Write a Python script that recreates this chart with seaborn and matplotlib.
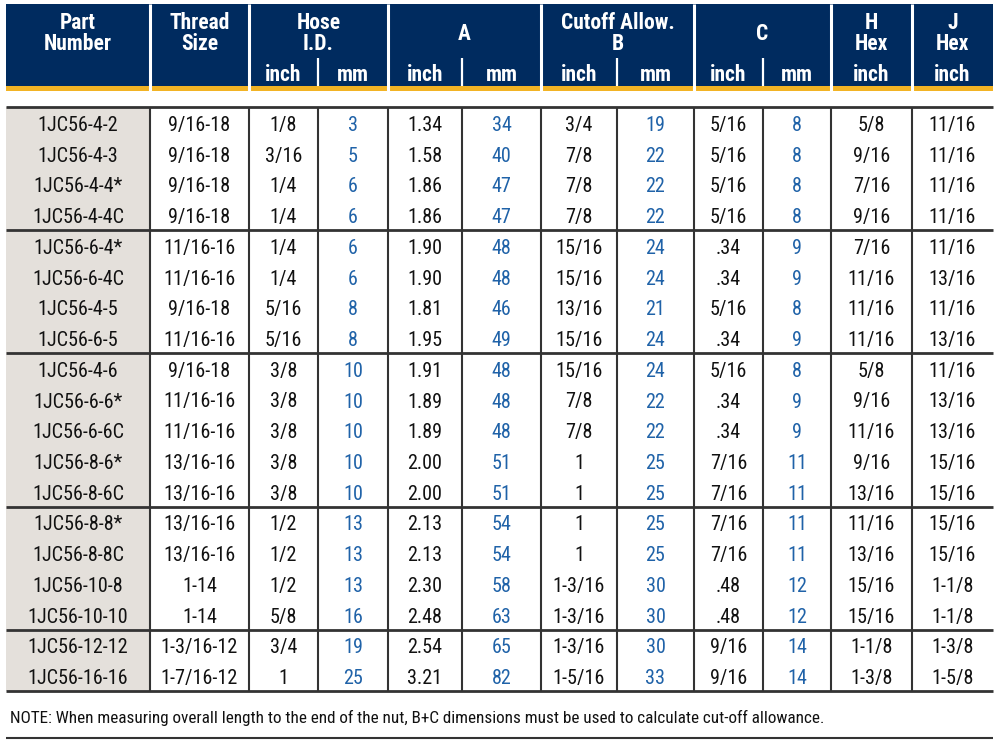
import matplotlib
matplotlib.use("Agg")
import matplotlib.pyplot as plt
from matplotlib import font_manager
import seaborn as sns
import pandas as pd

# ---------------- data ----------------
part_numbers = ["1JC56-4-2", "1JC56-4-3", "1JC56-4-4*", "1JC56-4-4C",
                "1JC56-6-4*", "1JC56-6-4C", "1JC56-4-5", "1JC56-6-5",
                "1JC56-4-6", "1JC56-6-6*", "1JC56-6-6C", "1JC56-8-6*", "1JC56-8-6C",
                "1JC56-8-8*", "1JC56-8-8C", "1JC56-10-8", "1JC56-10-10",
                "1JC56-12-12", "1JC56-16-16"]
thread_size = ["9/16-18", "9/16-18", "9/16-18", "9/16-18",
               "11/16-16", "11/16-16", "9/16-18", "11/16-16",
               "9/16-18", "11/16-16", "11/16-16", "13/16-16", "13/16-16",
               "13/16-16", "13/16-16", "1-14", "1-14",
               "1-3/16-12", "1-7/16-12"]
hose_inch = ["1/8", "3/16", "1/4", "1/4", "1/4", "1/4", "5/16", "5/16",
             "3/8", "3/8", "3/8", "3/8", "3/8", "1/2", "1/2", "1/2", "5/8", "3/4", "1"]
hose_mm = ["3", "5", "6", "6", "6", "6", "8", "8",
           "10", "10", "10", "10", "10", "13", "13", "13", "16", "19", "25"]
a_inch = ["1.34", "1.58", "1.86", "1.86", "1.90", "1.90", "1.81", "1.95",
          "1.91", "1.89", "1.89", "2.00", "2.00", "2.13", "2.13", "2.30", "2.48", "2.54", "3.21"]
a_mm = ["34", "40", "47", "47", "48", "48", "46", "49",
        "48", "48", "48", "51", "51", "54", "54", "58", "63", "65", "82"]
b_inch = ["3/4", "7/8", "7/8", "7/8", "15/16", "15/16", "13/16", "15/16",
          "15/16", "7/8", "7/8", "1", "1", "1", "1", "1-3/16", "1-3/16", "1-3/16", "1-5/16"]
b_mm = ["19", "22", "22", "22", "24", "24", "21", "24",
        "24", "22", "22", "25", "25", "25", "25", "30", "30", "30", "33"]
c_inch = ["5/16", "5/16", "5/16", "5/16", ".34", ".34", "5/16", ".34",
          "5/16", ".34", ".34", "7/16", "7/16", "7/16", "7/16", ".48", ".48", "9/16", "9/16"]
c_mm = ["8", "8", "8", "8", "9", "9", "8", "9",
        "8", "9", "9", "11", "11", "11", "11", "12", "12", "14", "14"]
h_hex = ["5/8", "9/16", "7/16", "9/16", "7/16", "11/16", "11/16", "11/16",
         "5/8", "9/16", "11/16", "9/16", "13/16", "11/16", "13/16", "15/16", "15/16", "1-1/8", "1-3/8"]
j_hex = ["11/16", "11/16", "11/16", "11/16", "11/16", "13/16", "11/16", "13/16",
         "11/16", "13/16", "13/16", "15/16", "15/16", "15/16", "15/16", "1-1/8", "1-1/8", "1-3/8", "1-5/8"]
group_sizes = [4, 4, 5, 4, 2]

header_groups = [("Part\nNumber", 1), ("Thread\nSize", 1), ("Hose\nI.D.", 2), ("A", 2),
                 ("Cutoff Allow.\nB", 2), ("C", 2), ("H\nHex", 1), ("J\nHex", 1)]
unit_labels = ["", "", "inch", "mm", "inch", "mm", "inch", "mm", "inch", "mm", "inch", "inch"]
note_text = ("NOTE: When measuring overall length to the end of the nut, "
             "B+C dimensions must be used to calculate cut-off allowance.")

df = pd.DataFrame({
    "part": part_numbers, "thread": thread_size, "hose_in": hose_inch, "hose_mm": hose_mm,
    "a_in": a_inch, "a_mm": a_mm, "b_in": b_inch, "b_mm": b_mm,
    "c_in": c_inch, "c_mm": c_mm, "h": h_hex, "j": j_hex,
})

# ---------------- style ----------------
sns.set_theme(style="white")
avail = {f.name for f in font_manager.fontManager.ttflist}
fam = [f for f in ["Roboto Condensed", "Liberation Sans Narrow", "Liberation Sans", "DejaVu Sans"] if f in avail]
plt.rcParams["font.family"] = fam

NAVY = "#002b5f"
GOLD = "#f2b324"
BLUE = "#1f62a8"
GRAY_BG = "#e4e0db"
LINE = "#333333"

col_edges = [6, 150, 249, 318, 388, 462, 541, 617, 694, 763, 831, 912, 993]
head_top, head_bot, gold_bot = 4, 86, 91
unit_top = 58
data_top, data_bot = 107, 691
n_rows = len(df)
row_h = (data_bot - data_top) / n_rows
mm_cols = {3, 5, 7, 9}

fig = plt.figure(figsize=(9.99, 7.55), dpi=100)
ax = fig.add_axes([0, 0, 1, 1])
ax.set_xlim(0, 999)
ax.set_ylim(755, 0)
ax.axis("off")

L, R = col_edges[0], col_edges[-1]

# header background
ax.add_patch(plt.Rectangle((L, head_top), R - L, head_bot - head_top, color=NAVY, lw=0))
ax.add_patch(plt.Rectangle((L, head_bot), R - L, gold_bot - head_bot, color=GOLD, lw=0))

# header group labels and separators
ci = 0
for label, span in header_groups:
    x0, x1 = col_edges[ci], col_edges[ci + span]
    cx = (x0 + x1) / 2
    ax.text(cx, 33.5, label, ha="center", va="center", color="white",
            fontsize=15.5, fontweight="bold", linespacing=0.92)
    if ci + span < len(col_edges) - 1:
        ax.plot([x1, x1], [head_top, gold_bot], color="white", lw=2.2, solid_capstyle="butt")
    if span == 2:
        xm = col_edges[ci + 1]
        ax.plot([xm, xm], [unit_top, head_bot], color="white", lw=1.6, solid_capstyle="butt")
    ci += span

for j, u in enumerate(unit_labels):
    if u:
        cx = (col_edges[j] + col_edges[j + 1]) / 2
        ax.text(cx, 75, u, ha="center", va="center", color="white",
                fontsize=15.5, fontweight="bold")

# part number background
ax.add_patch(plt.Rectangle((L, data_top), col_edges[1] - L, data_bot - data_top,
                           color=GRAY_BG, lw=0))

# data cells
for i, row in enumerate(df.itertuples(index=False)):
    cy = data_top + (i + 0.5) * row_h + 3
    for j, val in enumerate(row):
        cx = (col_edges[j] + col_edges[j + 1]) / 2
        ax.text(cx, cy, val, ha="center", va="center",
                color=BLUE if j in mm_cols else "#111111", fontsize=14.5)

# grid lines
for x in col_edges[1:-1]:
    ax.plot([x, x], [data_top, data_bot], color=LINE, lw=1.5, solid_capstyle="butt")
ys = [data_top]
acc = 0
for g in group_sizes:
    acc += g
    ys.append(data_top + acc * row_h)
for y in ys:
    ax.plot([L, R], [y, y], color=LINE, lw=2, solid_capstyle="butt")

# note
ax.text(10, 718, note_text, ha="left", va="center", color="#111111", fontsize=12.3)
ax.plot([L, R], [738, 738], color=LINE, lw=1.5, solid_capstyle="butt")

fig.savefig("out.png", dpi=100, facecolor="white")
